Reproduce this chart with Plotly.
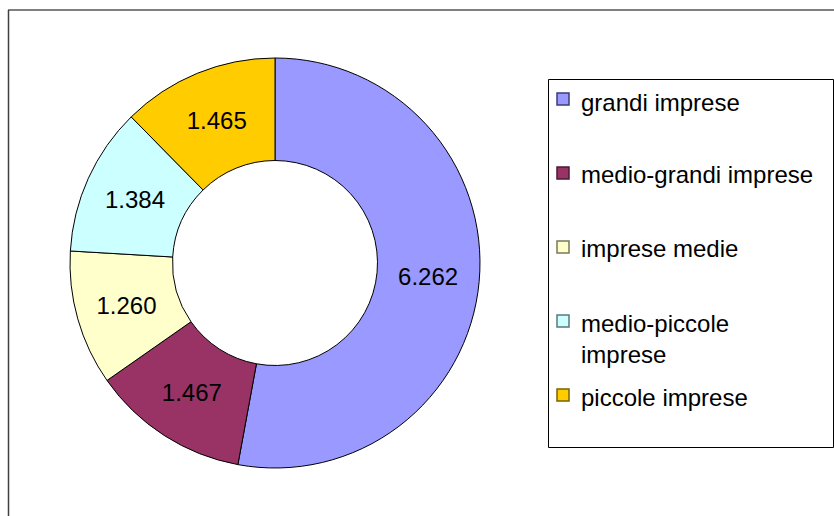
import plotly.graph_objects as go

# ---- data ----
categories = ["grandi imprese", "medio-grandi imprese", "imprese medie",
              "medio-piccole imprese", "piccole imprese"]
legend_labels = ["grandi imprese", "medio-grandi imprese", "imprese medie",
                 "medio-piccole<br>imprese", "piccole imprese"]
values = [6262, 1467, 1260, 1384, 1465]

# ---- styles ----
colors = ["#9999FF", "#993366", "#FFFFCC", "#CCFFFF", "#FFCC00"]
key_borders = ["#3c3c7a", "#4a1a33", "#7a7a5a", "#5a7a7a", "#7a6200"]

W, H = 834, 516
FONT = "Liberation Sans, Arial, sans-serif"


def px(x):
    return x / W


def py(y):
    return 1 - y / H


fig = go.Figure()
fig.add_trace(go.Pie(
    labels=categories,
    values=values,
    sort=False,
    direction="clockwise",
    rotation=0,
    hole=0.5,
    marker=dict(colors=colors, line=dict(color="#000000", width=1)),
    texttemplate="%{value:,}",
    textposition="inside",
    insidetextorientation="horizontal",
    textfont=dict(family=FONT, size=24, color="#000000"),
    domain=dict(x=[px(70), px(480)], y=[py(468), py(58)]),
    showlegend=False,
    hoverinfo="label+value",
))

shapes = []
annotations = []

# outer frame (top in gray, left darker)
shapes.append(dict(type="line", xref="paper", yref="paper",
                   x0=px(8), x1=1.01, y0=py(10), y1=py(10),
                   line=dict(color="#808080", width=2)))
shapes.append(dict(type="line", xref="paper", yref="paper",
                   x0=px(8.5), x1=px(8.5), y0=py(10), y1=-0.01,
                   line=dict(color="#404040", width=1.5)))

# legend box
shapes.append(dict(type="rect", xref="paper", yref="paper",
                   x0=px(548.5), x1=px(833.5), y0=py(447.5), y1=py(79.5),
                   line=dict(color="#000000", width=1), fillcolor="white",
                   layer="below"))

key_rows = [99, 173, 247, 321, 395]
text_rows = [102, 175, 249, 338.5, 397]
for lab, col, bc, ky, ty in zip(legend_labels, colors, key_borders, key_rows, text_rows):
    shapes.append(dict(type="rect", xref="paper", yref="paper",
                       x0=px(557), x1=px(569), y0=py(ky + 6), y1=py(ky - 6),
                       fillcolor=col, line=dict(color=bc, width=1.5)))
    annotations.append(dict(xref="paper", yref="paper", x=px(579), y=py(ty),
                            xanchor="left", yanchor="middle", align="left",
                            text=lab, showarrow=False,
                            font=dict(family=FONT, size=24, color="#000000")))

fig.update_layout(
    width=W, height=H,
    margin=dict(l=0, r=0, t=0, b=0),
    paper_bgcolor="white",
    plot_bgcolor="white",
    separators=",.",
    shapes=shapes,
    annotations=annotations,
    font=dict(family=FONT),
)

fig.write_html(
    "out.html",
    config={"displayModeBar": False},
    post_script="document.body.style.margin='0';document.body.style.padding='0';",
)
